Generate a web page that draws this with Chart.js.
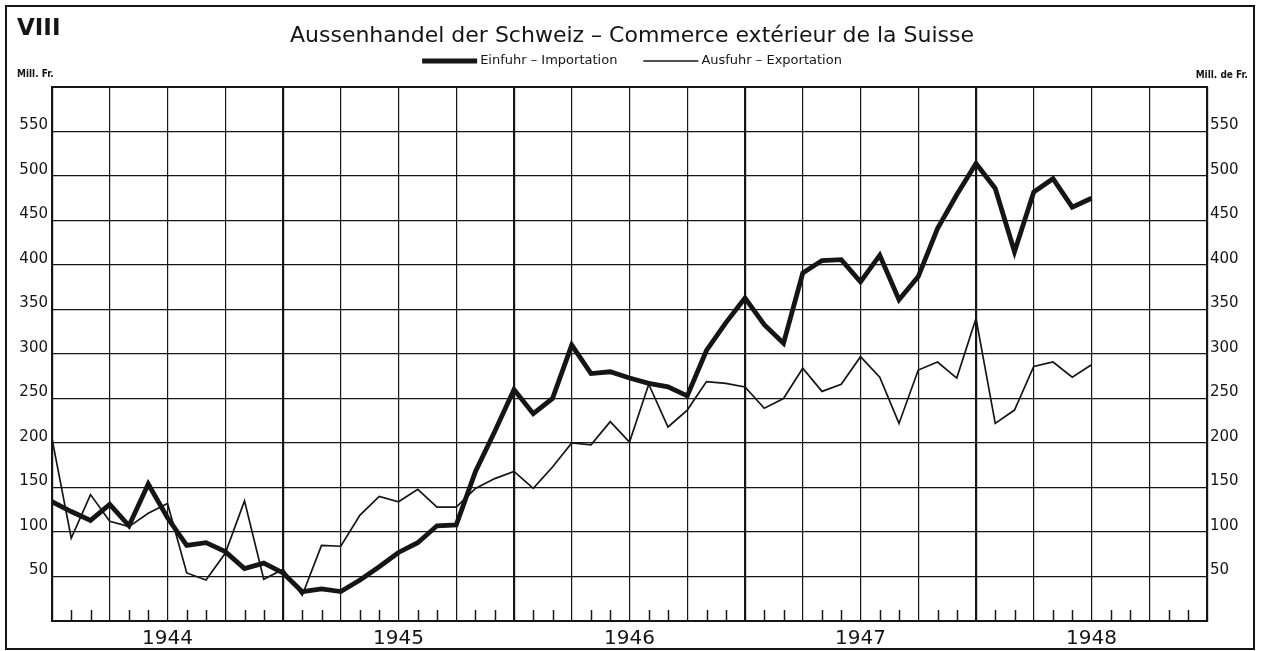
<!DOCTYPE html>
<html>
<head>
<meta charset="utf-8">
<title>Aussenhandel der Schweiz</title>
<script src="https://cdn.jsdelivr.net/npm/chart.js@4.4.1/dist/chart.umd.min.js"></script>
<style>
  html, body { margin: 0; padding: 0; background: #fff; }
  #wrap { position: relative; width: 1264px; height: 651px; }
</style>
</head>
<body>
<div id="wrap"><canvas id="tradeChart"></canvas></div>
<script>
// Monatswerte in Mill. Fr., Januar 1944 bis Juli 1948 (Index 0 = Jan. 1944)
const years = ['1944', '1945', '1946', '1947', '1948'];
const yTickLabels = [50, 100, 150, 200, 250, 300, 350, 400, 450, 500, 550];

const importValues = [
    134, 123, 113, 131, 107, 154, 116, 85, 88, 78, 59, 65,
    54, 33, 36, 33, 46, 61, 77, 88, 107, 108, 168, 213,
    260, 233, 250, 310, 278, 280, 273, 267, 263, 253, 304, 335,
    363, 333, 312, 391, 405, 406, 381, 411, 361, 387, 441, 479,
    514, 486, 415, 482, 497, 465, 475
];
const exportValues = [
    205, 93, 142, 112, 106, 121, 132, 54, 46, 76, 135, 47,
    58, 29, 85, 84, 119, 140, 134, 148, 128, 128, 149, 160,
    168, 149, 173, 200, 198, 224, 201, 266, 218, 237, 269, 267,
    263, 239, 250, 284, 258, 266, 297, 274, 222, 282, 291, 273,
    340, 222, 237, 286, 291, 274, 288
];

const ink = '#151515';
const months = years.length * 12;

const toPoints = arr => arr.map((v, i) => ({ x: i, y: v }));

// Papier, Rahmen, Monatsstriche, Legende und Beschriftungen
const paperPlugin = {
    id: 'paper',
    beforeDraw(chart) {
        const c = chart.ctx;
        c.save();
        c.fillStyle = '#fff';
        c.fillRect(0, 0, chart.width, chart.height);
        c.restore();
    },
    afterDraw(chart) {
        const c = chart.ctx;
        const { bottom } = chart.chartArea;
        const xs = chart.scales.x;
        c.save();
        c.strokeStyle = ink;
        c.fillStyle = ink;

        // Rahmen
        c.lineWidth = 2;
        c.strokeRect(6, 6, 1248, 643);

        // kleine Monatsstriche an der Grundlinie
        c.lineWidth = 1.5;
        for (let m = 1; m < months; m++) {
            if (m % 3 === 0) continue;
            const x = Math.round(xs.getPixelForValue(m)) + 0.5;
            c.beginPath();
            c.moveTo(x, bottom);
            c.lineTo(x, bottom - 11);
            c.stroke();
        }

        // Legende
        const sets = chart.data.datasets;
        c.font = "13px 'DejaVu Sans'";
        c.textBaseline = 'middle';
        const lineLen = 55, gap = 3, itemGap = 26, ly = 61;
        const widths = sets.map(ds => lineLen + gap + c.measureText(ds.label).width);
        let lx = chart.width / 2 - (widths.reduce((a, b) => a + b, 0) + itemGap) / 2;
        sets.forEach((ds, i) => {
            c.lineWidth = ds.borderWidth;
            c.beginPath();
            c.moveTo(lx, ly);
            c.lineTo(lx + lineLen, ly);
            c.stroke();
            c.fillText(ds.label, lx + lineLen + gap, ly);
            lx += widths[i] + itemGap;
        });

        // Nummer und Einheiten
        c.textBaseline = 'alphabetic';
        c.font = "bold 23px 'DejaVu Sans'";
        c.fillText('VIII', 17, 35);
        c.font = "bold 10px 'DejaVu Sans Condensed'";
        c.fillText('Mill. Fr.', 17, 77);
        c.textAlign = 'right';
        c.fillText('Mill. de Fr.', 1248, 78);
        c.restore();
    }
};

const yTickCallback = v => yTickLabels.includes(v) ? String(v) : '';

new Chart(document.getElementById('tradeChart'), {
    type: 'line',
    data: {
        datasets: [{
            label: 'Einfuhr – Importation',
            data: toPoints(importValues),
            borderColor: ink,
            borderWidth: 4.8,
            pointRadius: 0,
            tension: 0,
            yAxisID: 'y'
        }, {
            label: 'Ausfuhr – Exportation',
            data: toPoints(exportValues),
            borderColor: ink,
            borderWidth: 1.7,
            pointRadius: 0,
            tension: 0,
            yAxisID: 'y'
        }]
    },
    options: {
        responsive: true,
        maintainAspectRatio: false,
        animation: false,
        devicePixelRatio: 1,
        layout: { padding: 0 },
        plugins: {
            legend: { display: false },
            tooltip: { enabled: false },
            title: {
                display: true,
                text: 'Aussenhandel der Schweiz – Commerce extérieur de la Suisse',
                color: ink,
                font: { family: "'DejaVu Sans'", size: 22, weight: 'normal' },
                padding: { top: 23, bottom: 37.6 }
            }
        },
        scales: {
            x: {
                type: 'linear',
                min: 0,
                max: months,
                afterFit: s => { s.height = 30; },
                border: { color: ink, width: 2 },
                grid: {
                    color: ink,
                    drawTicks: false,
                    lineWidth: ctx => (ctx.tick && ctx.tick.value % 12 === 0) ? 2.2 : 1.2
                },
                ticks: {
                    stepSize: 3,
                    autoSkip: false,
                    maxRotation: 0,
                    padding: 6,
                    color: ink,
                    font: { family: "'DejaVu Sans'", size: 20 },
                    callback: v => ((v - 6) % 12 === 0) ? years[(v - 6) / 12] : ''
                }
            },
            y: {
                position: 'left',
                min: 0,
                max: 600,
                afterFit: s => { s.width = 52; },
                border: { color: ink, width: 2 },
                grid: {
                    color: ink,
                    drawTicks: false,
                    lineWidth: ctx => (ctx.tick && ctx.tick.value === 600) ? 2 : 1.2
                },
                ticks: {
                    stepSize: 50,
                    padding: 4,
                    labelOffset: -6,
                    color: ink,
                    font: { family: "'DejaVu Sans'", size: 15 },
                    callback: yTickCallback
                }
            },
            y2: {
                position: 'right',
                min: 0,
                max: 600,
                afterFit: s => { s.width = 57; },
                border: { color: ink, width: 2 },
                grid: { drawOnChartArea: false, drawTicks: false },
                ticks: {
                    stepSize: 50,
                    padding: 3,
                    labelOffset: -6,
                    color: ink,
                    font: { family: "'DejaVu Sans'", size: 15 },
                    callback: yTickCallback
                }
            }
        }
    },
    plugins: [paperPlugin]
});
</script>
</body>
</html>
